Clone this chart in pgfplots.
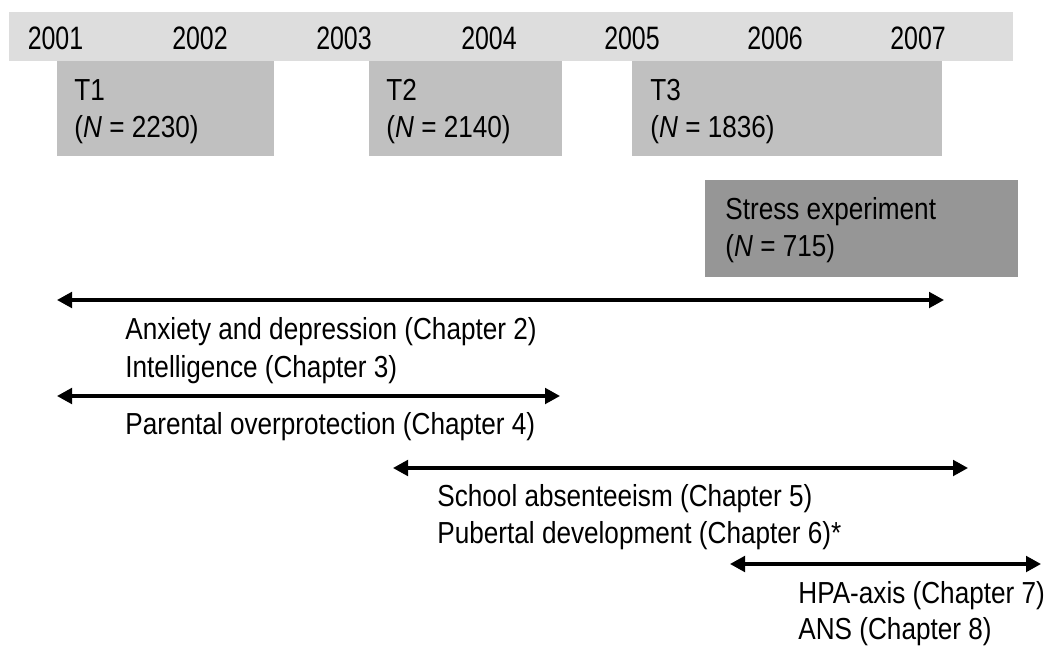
\documentclass[border=0pt]{standalone}
\usepackage{fontspec}
\setmainfont{Liberation Sans}[FakeStretch=0.86]
\newfontfamily\yearfont{Liberation Sans}[FakeStretch=0.77]
\usepackage{pgfplots}
\pgfplotsset{compat=1.18}
\usetikzlibrary{arrows.meta}
\definecolor{band}{RGB}{221,221,221}
\definecolor{wave}{RGB}{192,192,192}
\definecolor{stress}{RGB}{150,150,150}
\begin{document}
\begin{tikzpicture}
\begin{axis}[width=524bp, height=323bp, scale only axis,
  xmin=0, xmax=1048, ymin=0, ymax=646, y dir=reverse,
  hide axis, clip=false]
\path (axis cs:0,0) rectangle (axis cs:1048,646);
% timeline band
\addplot[fill=band, draw=none] coordinates {(9,12) (1013,12) (1013,61) (9,61)};
% measurement waves
\addplot[fill=wave, draw=none] coordinates {(57,61) (274,61) (274,156) (57,156)};
\addplot[fill=wave, draw=none] coordinates {(369,61) (562,61) (562,156) (369,156)};
\addplot[fill=wave, draw=none] coordinates {(632,61) (942,61) (942,156) (632,156)};
\addplot[fill=stress, draw=none] coordinates {(705,180) (1018,180) (1018,277) (705,277)};
% arrows
\tikzset{dbl/.style={line width=1.6bp, black, {Triangle[length=7.5bp,width=7.8bp]}-{Triangle[length=7.5bp,width=7.8bp]}}}
\addplot[dbl] coordinates {(57,300) (944,300)};
\addplot[dbl] coordinates {(57,396) (560,396)};
\addplot[dbl] coordinates {(393,468) (968,468)};
\addplot[dbl] coordinates {(730,564) (1041,564)};
% years
\tikzset{yr/.style={anchor=base, inner sep=0pt, font=\yearfont\fontsize{16.2bp}{19bp}\selectfont}}
\node[yr] at (axis cs:55.5,50) {2001};
\node[yr] at (axis cs:200,50) {2002};
\node[yr] at (axis cs:344,50) {2003};
\node[yr] at (axis cs:489,50) {2004};
\node[yr] at (axis cs:632,50) {2005};
\node[yr] at (axis cs:775,50) {2006};
\node[yr] at (axis cs:918,50) {2007};
% labels
\tikzset{lb/.style={anchor=base west, inner sep=0pt, font=\fontsize{15.2bp}{18bp}\selectfont}}
\node[lb] at (axis cs:74,100) {T1};
\node[lb] at (axis cs:74,137) {(\textit{N} = 2230)};
\node[lb] at (axis cs:386,100) {T2};
\node[lb] at (axis cs:386,137) {(\textit{N} = 2140)};
\node[lb] at (axis cs:650,100) {T3};
\node[lb] at (axis cs:650,137) {(\textit{N} = 1836)};
\node[lb] at (axis cs:725,219) {Stress experiment};
\node[lb] at (axis cs:725,256) {(\textit{N} = 715)};
\node[lb] at (axis cs:125,339) {Anxiety and depression (Chapter 2)};
\node[lb] at (axis cs:125,377) {Intelligence (Chapter 3)};
\node[lb] at (axis cs:125,434) {Parental overprotection (Chapter 4)};
\node[lb] at (axis cs:437,506) {School absenteeism (Chapter 5)};
\node[lb] at (axis cs:437,543) {Pubertal development (Chapter 6)*};
\node[lb] at (axis cs:798,603) {HPA-axis (Chapter 7)};
\node[lb] at (axis cs:798,639) {ANS (Chapter 8)};
\end{axis}
\end{tikzpicture}
\end{document}
